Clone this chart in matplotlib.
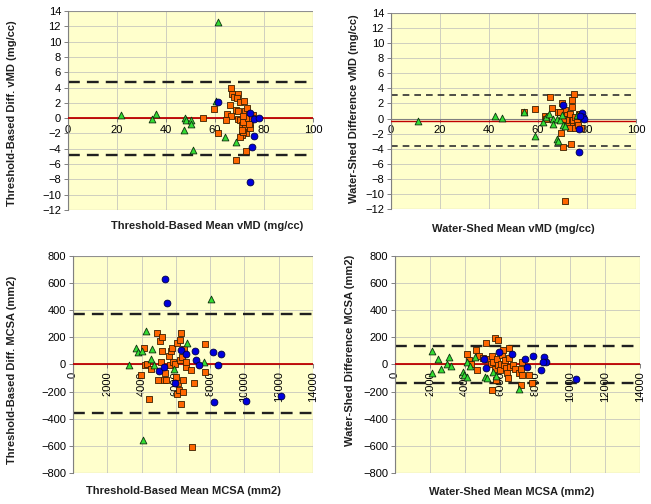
import numpy as np
import matplotlib.pyplot as plt
from matplotlib.patches import Rectangle

plt.rcParams['font.family'] = ['Liberation Sans', 'DejaVu Sans']

# ---- panel A: threshold-based vMD ----
a_tri_x = [21.6, 34.1, 35.9, 47.7, 48.3, 50.1, 50.1, 47.3, 51.2, 60.2, 61.1, 64.1, 68.5]
a_tri_y = [0.4, -0.05, 0.6, 0.0, -0.3, -0.3, -0.8, -1.6, -4.2, 2.3, 12.6, -2.4, -3.1]
a_sq_x = [55.1, 59.5, 61.4, 66.4, 66.8, 67.9, 69.2, 68.9, 66.2, 70.0, 71.9, 68.6, 69.3, 64.8,
          66.4, 64.4, 69.4, 70.3, 71.0, 71.6, 72.3, 73.0, 73.7, 73.3, 74.4, 73.0, 72.7, 71.0,
          70.3, 72.3, 74.1, 75.5, 75.0, 72.6, 68.5, 71.6, 71.0, 73.7, 71.3]
a_sq_y = [0.0, 1.2, -1.9, 4.0, 3.2, 2.8, 3.1, 2.6, 1.7, 2.1, 2.3, 1.1, 1.0, 0.6,
          0.3, -0.3, -0.05, -0.3, -0.9, -0.5, 1.0, 1.3, 0.6, 0.0, -0.7, -1.3, -2.0, -2.2,
          -2.4, -1.3, -1.3, 0.4, 0.0, -4.3, -5.5, -1.8, -1.5, -0.8, 0.3]
a_ci_x = [61.1, 76.1, 75.2, 74.4, 76.1, 77.8, 74.1]
a_ci_y = [2.1, -2.3, -3.8, -8.3, -0.1, 0.0, 0.7]
a_mean, a_hi, a_lo = 0.0, 4.75, -4.8

# ---- panel B: water-shed vMD ----
b_tri_x = [10.9, 42.6, 45.2, 54.4, 58.8, 62.2, 63.3, 64.5, 66.0, 66.0, 67.6, 69.0, 69.7, 70.3,
           67.8, 68.3, 75.8, 71.0]
b_tri_y = [-0.3, 0.35, 0.13, 0.84, -2.3, -0.45, 0.2, 0.66, -0.1, -0.75, -0.1, -0.2, 0.45, -0.9,
           -2.65, -2.95, 0.45, -1.0]
b_sq_x = [54.4, 58.9, 65.0, 65.9, 63.0, 63.3, 68.0, 69.9, 70.3, 73.6, 74.8, 73.7, 74.0, 70.9,
          69.4, 71.0, 71.7, 72.4, 73.1, 72.8, 73.7, 74.4, 75.1, 75.8, 71.9, 73.2, 75.1, 76.9,
          77.4, 71.4, 76.4, 70.3, 69.0]
b_sq_y = [0.9, 1.2, 2.8, 1.46, 0.3, -0.1, 0.8, 2.0, -3.75, -3.4, 3.3, 2.5, 1.5, -11.0,
          -1.9, 1.1, 0.44, 0.0, 0.66, -0.45, -0.66, -0.2, 0.2, -0.44, -0.9, -1.3, -1.3, 0.66,
          -1.3, -0.2, -0.9, 0.0, 0.9]
b_ci_x = [70.3, 76.8, 77.8, 78.3, 78.6, 76.8, 77.2]
b_ci_y = [1.77, -4.45, 0.75, 0.2, -0.1, -1.45, 0.4]
b_mean, b_hi, b_lo = -0.27, 3.1, -3.65

# ---- panel C: threshold-based MCSA ----
c_tri_x = [3247, 3694, 3791, 4044, 4239, 4608, 4569, 4725, 4083, 5872, 6630, 7641, 8050]
c_tri_y = [-5, 123, 94, 99, 246, 113, 39, -5, -559, -32, 160, 20, 483]
c_sq_x = [3966, 4122, 4180, 4297, 4453, 4530, 4919, 5055, 5211, 5191, 5152, 4958, 5288, 5386,
          5444, 5580, 5638, 5697, 5794, 5833, 5930, 6027, 6124, 6085, 6183, 6085, 6222, 6319,
          6222, 6358, 6416, 6455, 6416, 6319, 6611, 6611, 6902, 7038, 6961, 7680, 7719]
c_sq_y = [-76, 118, -7, 0, -256, -30, 229, 175, 200, 101, 20, -111, -116, -62,
          -111, 62, -5, 101, 118, 20, 0, -91, -140, -214, -190, 155, 180, 234,
          32, 57, -111, 113, -202, -288, -17, 15, -37, -140, -608, -54, 150]
c_ci_x = [5386, 5483, 4997, 5308, 5950, 6319, 6591, 7136, 7194, 7350, 8186, 8614, 8478, 8225,
          10111, 12114]
c_ci_y = [628, 451, -49, -15, -140, 106, 74, 96, 32, -5, 89, 76, -5, -278, -271, -231]
c_mean, c_hi, c_lo = 7, 370, -355

# ---- panel D: water-shed MCSA ----
d_tri_x = [2095, 2133, 2476, 2629, 2990, 3105, 3181, 3867, 3943, 4133, 4095, 4286, 4571, 5143,
           5238, 5619, 5752, 7086]
d_tri_y = [98, -66, 37, -34, 7, 52, -12, -54, -79, -91, 20, -12, 57, -91,
           -103, -54, -86, -182]
d_sq_x = [4095, 4248, 4324, 4610, 4667, 4800, 5010, 5200, 5314, 5467, 5524, 5524, 5619, 5695,
          5714, 5752, 5867, 5810, 5905, 6000, 6057, 6095, 6152, 6229, 6286, 6343, 6419, 6476,
          6533, 6533, 6571, 6762, 6857, 7105, 7181, 7238, 7276, 7676, 7848, 7200]
d_sq_y = [76, 32, 7, 106, -42, 64, 49, 155, 37, 0, 62, -185, 20, -30,
          192, -116, 180, 44, -5, -42, 7, 69, 106, -5, 32, -25, -66, -98,
          123, 49, -17, -5, -30, -62, -148, 20, -79, -79, -133, -34]
d_ci_x = [5181, 5086, 5962, 6705, 7429, 7524, 7905, 8343, 8533, 8610, 8476, 10324]
d_ci_y = [-25, 39, 89, 81, 39, -17, 62, -37, 57, 15, 20, -106]
d_mean, d_hi, d_lo = 2, 137, -133

bg = '#FFFFCC'
fig = plt.figure(figsize=(6.51, 5.04), dpi=100)


def panel(rect, tri, sq, ci, mean, hi, lo, xlim, ylim, xstep, ystep, rot, dash, dlw, dcol, mlw):
    ax = fig.add_axes(rect)
    ax.set_facecolor(bg)
    ax.set_xlim(*xlim)
    ax.set_ylim(*ylim)
    ax.set_xticks(np.arange(xlim[0], xlim[1] + 1, xstep))
    ax.set_yticks(np.arange(ylim[0], ylim[1] + 1, ystep))
    ax.grid(True, color='#cfcfbf', lw=0.7)
    ax.set_axisbelow(True)
    for s in ['top', 'right']:
        ax.spines[s].set_visible(False)
    ax.spines['bottom'].set_position(('data', 0))
    ax.spines['bottom'].set_color('#808080')
    ax.spines['left'].set_color('#808080')
    ax.add_patch(Rectangle((0, 0), 1, 1, transform=ax.transAxes, fill=False,
                           edgecolor='#909090', lw=0.8, zorder=1))
    ax.tick_params(axis='both', direction='out', length=3, width=0.7, color='#808080',
                   labelsize=8, pad=2)
    ax.tick_params(axis='x', labelrotation=rot)
    ax.axhline(mean, color='#C00000', lw=mlw, zorder=2.7)
    ax.axhline(hi, color=dcol, lw=dlw, dashes=dash, zorder=2)
    ax.axhline(lo, color=dcol, lw=dlw, dashes=dash, zorder=2)
    ax.scatter(sq[0], sq[1], marker='s', s=22, c='#FF6600', edgecolors='#3a2000',
               linewidths=0.6, zorder=3, clip_on=False)
    ax.scatter(tri[0], tri[1], marker='^', s=24, c='#33DD33', edgecolors='#103010',
               linewidths=0.6, zorder=4, clip_on=False)
    ax.scatter(ci[0], ci[1], marker='o', s=24, c='#0000DD', edgecolors='#000040',
               linewidths=0.6, zorder=5, clip_on=False)
    return ax


panel([0.1045, 0.5833, 0.3763, 0.3948], (a_tri_x, a_tri_y), (a_sq_x, a_sq_y),
      (a_ci_x, a_ci_y), a_mean, a_hi, a_lo, (0, 100), (-12, 14), 20, 2, 0,
      (5, 3), 1.7, '#202020', 1.3)
panel([0.6006, 0.5853, 0.3763, 0.3890], (b_tri_x, b_tri_y), (b_sq_x, b_sq_y),
      (b_ci_x, b_ci_y), b_mean, b_hi, b_lo, (0, 100), (-12, 14), 20, 2, 0,
      (4, 3), 1.2, '#303030', 1.0)
panel([0.1121, 0.0615, 0.3687, 0.4306], (c_tri_x, c_tri_y), (c_sq_x, c_sq_y),
      (c_ci_x, c_ci_y), c_mean, c_hi, c_lo, (0, 14000), (-800, 800), 2000, 200, 90,
      (5, 3), 1.7, '#202020', 1.3)
panel([0.6068, 0.0615, 0.3763, 0.4306], (d_tri_x, d_tri_y), (d_sq_x, d_sq_y),
      (d_ci_x, d_ci_y), d_mean, d_hi, d_lo, (0, 14000), (-800, 800), 2000, 200, 90,
      (5, 3), 1.7, '#202020', 1.3)

lab = dict(fontsize=8, fontweight='bold', color='#202020', ha='center', va='center')
W, H = 651, 504
fig.text(207 / W, 1 - 226 / H, 'Threshold-Based Mean vMD (mg/cc)', **lab)
fig.text(513 / W, 1 - 229 / H, 'Water-Shed Mean vMD (mg/cc)', **lab)
fig.text(183 / W, 1 - 491 / H, 'Threshold-Based Mean MCSA (mm2)', **lab)
fig.text(512 / W, 1 - 492 / H, 'Water-Shed Mean MCSA (mm2)', **lab)
fig.text(12 / W, 1 - 113 / H, 'Threshold-Based Diff. vMD (mg/cc)', rotation=90, **lab)
fig.text(354 / W, 1 - 109 / H, 'Water-Shed Difference vMD (mg/cc)', rotation=90, **lab)
fig.text(12 / W, 1 - 370 / H, 'Threshold-Based Diff. MCSA (mm2)', rotation=90, **lab)
fig.text(350 / W, 1 - 350 / H, 'Water-Shed Difference MCSA (mm2)', rotation=90, **lab)

fig.savefig('out.png', dpi=100, facecolor='white')
